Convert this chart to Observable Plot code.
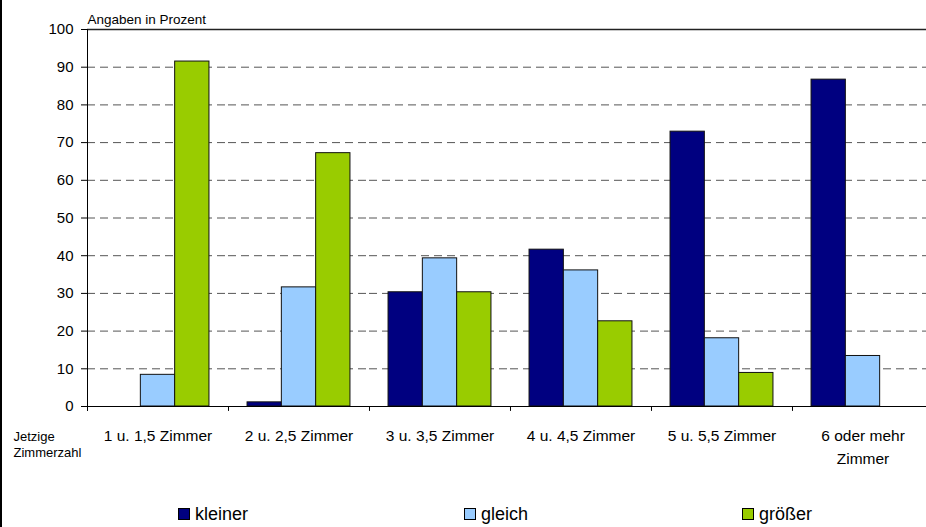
<!DOCTYPE html>
<html>
<head>
<meta charset="utf-8">
<script src="https://cdn.jsdelivr.net/npm/d3@7"></script>
<script src="https://cdn.jsdelivr.net/npm/@observablehq/plot@0.6"></script>
<style>
  html, body { margin: 0; padding: 0; background: #fff; }
  body { width: 926px; height: 527px; overflow: hidden; position: relative; font-family: "Liberation Sans", Arial, sans-serif; }
  #frameLeft { position: absolute; left: 0; top: 0; width: 2px; height: 527px; background: #000; }
  #legend { position: relative; width: 926px; height: 37px; }
  .item { position: absolute; top: 14px; height: 20px; display: flex; align-items: center; font-size: 18px; color: #000; }
  .sw { width: 10px; height: 10px; border: 1px solid #000; margin-right: 5px; }
</style>
</head>
<body>
<div id="chart"></div>
<div id="legend"></div>
<div id="frameLeft"></div>
<script>
// ---- data ----
const categories = ["1 u. 1,5 Zimmer", "2 u. 2,5 Zimmer", "3 u. 3,5 Zimmer", "4 u. 4,5 Zimmer", "5 u. 5,5 Zimmer", "6 oder mehr\nZimmer"];
const series = ["kleiner", "gleich", "größer"];
const kleiner = [0, 1.1, 30.3, 41.6, 72.9, 86.7];
const gleich = [8.4, 31.6, 39.3, 36.1, 18.1, 13.4];
const groesser = [91.5, 67.2, 30.3, 22.6, 8.9, 0];
const colors = ["#000080", "#99CCFF", "#99CC00"];
const yTicks = [0, 10, 20, 30, 40, 50, 60, 70, 80, 90, 100];
const gridTicks = [10, 20, 30, 40, 50, 60, 70, 80, 90];
const yLabel = "Angaben in Prozent";
const xLabel = "Jetzige\nZimmerzahl";

const values = [kleiner, gleich, groesser];
const rows = [];
categories.forEach((c, i) => series.forEach((s, j) => rows.push({cat: c, series: s, value: values[j][i]})));

// ---- layout ----
const W = 926, H = 490, mL = 87, mR = -7, mT = 29, mB = 84;
const po = 0.555;
const fw = (W - mL - mR) / categories.length;
const step = fw / (series.length + 2 * po);
const offset = step * (po + 0.5);

const chart = Plot.plot({
  width: W, height: H,
  marginLeft: mL, marginRight: mR, marginTop: mT, marginBottom: mB,
  style: {fontFamily: "'Liberation Sans', Arial, sans-serif", background: "transparent", color: "#000"},
  fx: {domain: categories, padding: 0, axis: null},
  x: {domain: series, paddingInner: 0, paddingOuter: po, round: false, axis: null},
  y: {domain: [0, 100]},
  color: {domain: series, range: colors},
  marks: [
    Plot.ruleY(gridTicks, {y: d => d, stroke: "#555", strokeWidth: 1, strokeDasharray: "8,5"}),
    Plot.ruleY([100], {y: d => d, stroke: "#222", strokeWidth: 1.5}),
    Plot.barY(rows.filter(d => d.value > 0), {fx: "cat", x: "series", y: "value", fill: "series", stroke: "#111", strokeWidth: 1}),
    Plot.ruleY([0], {y: d => d, stroke: "#000", strokeWidth: 1}),
    Plot.ruleX(categories, {fx: d => d, x: () => series[0], y1: 0, y2: -1.3, dx: -offset, stroke: "#000"}),
    Plot.ruleX([categories[0]], {fx: d => d, x: () => series[0], y1: -1.3, y2: 100, dx: -offset, stroke: "#000"}),
    Plot.axisY({ticks: yTicks, tickSize: 6, tickPadding: 8, fontSize: 15, label: null, anchor: "left"}),
    Plot.text(categories, {fx: d => d, text: d => d, frameAnchor: "bottom", dy: 19, lineAnchor: "top", lineHeight: 1.45, fontSize: 15.5}),
    Plot.text([yLabel], {text: d => d, frameAnchor: "top-left", textAnchor: "start", lineAnchor: "bottom", dy: -6, fontSize: 13.5, facet: "super"}),
    Plot.text([xLabel], {text: d => d, frameAnchor: "bottom-left", textAnchor: "start", lineAnchor: "top", dx: -74, dy: 23, lineHeight: 1.25, fontSize: 13, facet: "super"})
  ]
});
document.getElementById("chart").appendChild(chart);

// ---- legend ----
const legendX = [178, 464, 742];
const legend = document.getElementById("legend");
series.forEach((s, j) => {
  const it = document.createElement("div");
  it.className = "item";
  it.style.left = legendX[j] + "px";
  const sw = document.createElement("span");
  sw.className = "sw";
  sw.style.background = colors[j];
  it.appendChild(sw);
  it.appendChild(document.createTextNode(s));
  legend.appendChild(it);
});
</script>
</body>
</html>
